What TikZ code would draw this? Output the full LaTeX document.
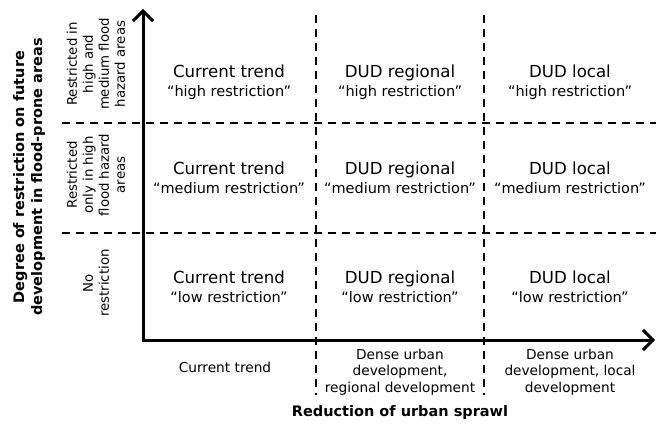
\documentclass[tikz,border=0pt]{standalone}
\usepackage{fontspec}
\setmainfont{DejaVu Sans}
\usetikzlibrary{arrows.meta}
\begin{document}
\begin{tikzpicture}[x=1pt,y=-1pt,
	axis/.style={line width=3pt, line join=miter, {Straight Barb[length=10pt,width=20pt,line width=3pt]}-{Straight Barb[length=10pt,width=20pt,line width=3pt]}},
	gridline/.style={line width=1.6pt, dash pattern=on 8pt off 6pt},
	cell/.style={align=center, font=\fontsize{16.6}{19}\selectfont},
	rowlab/.style={align=center, rotate=90, font=\fontsize{13.3}{16}\selectfont},
	collab/.style={align=center, font=\fontsize{13.7}{16.5}\selectfont},
	title/.style={align=center, font=\fontsize{14.5}{18}\selectfont\bfseries}]
	\useasboundingbox (0,0) rectangle (659,425);
	% axes
	\coordinate (origin) at (143,340);
	\coordinate (ytip) at (143,9);
	\coordinate (xtip) at (655,340);
	% grid
	\foreach \x/\n in {316/a,484/b}
	{
		\coordinate (v\n top) at (\x,15);
		\coordinate (v\n bot) at (\x,395);
		\draw[gridline] (v\n top) -- (v\n bot);
	}
	\foreach \y/\n in {123/a,233/b}
	{
		\coordinate (h\n left) at (62,\y);
		\coordinate (h\n right) at (656,\y);
		\draw[gridline] (h\n left) -- (h\n right);
	}
	\draw[axis] (ytip) -- (origin) -- (xtip);
	% cells
	\foreach \row/\level/\y in {0/high/82,1/medium/178,2/low/287}
	{
		\foreach \col/\scen/\x in {0/Current trend/229,1/DUD regional/400,2/DUD local/570}
		{
			\node[cell] (c\row\col) at (\x,\y) {\scen\\{\fontsize{14.5}{17}\selectfont “\level{} restriction”}};
		}
	}
	% row labels
	\node[rowlab] (r0) at (96,64) {Restricted in\\high and\\medium flood\\hazard areas};
	\node[rowlab] (r1) at (96,175) {Restricted\\only in high\\flood hazard\\areas};
	\node[rowlab] (r2) at (96,283) {No\\restriction};
	% column labels
	\node[collab] (k0) at (225,367) {Current trend};
	\node[collab] (k1) at (400,372) {Dense urban\\development,\\regional development};
	\node[collab] (k2) at (570,372) {Dense urban\\development, local\\development};
	% axis titles
	\node[title] (xtitle) at (400,412) {Reduction of urban sprawl};
	\node[title, rotate=90] (ytitle) at (29,177) {Degree of restriction on future\\development in flood-prone areas};
\end{tikzpicture}
\end{document}
